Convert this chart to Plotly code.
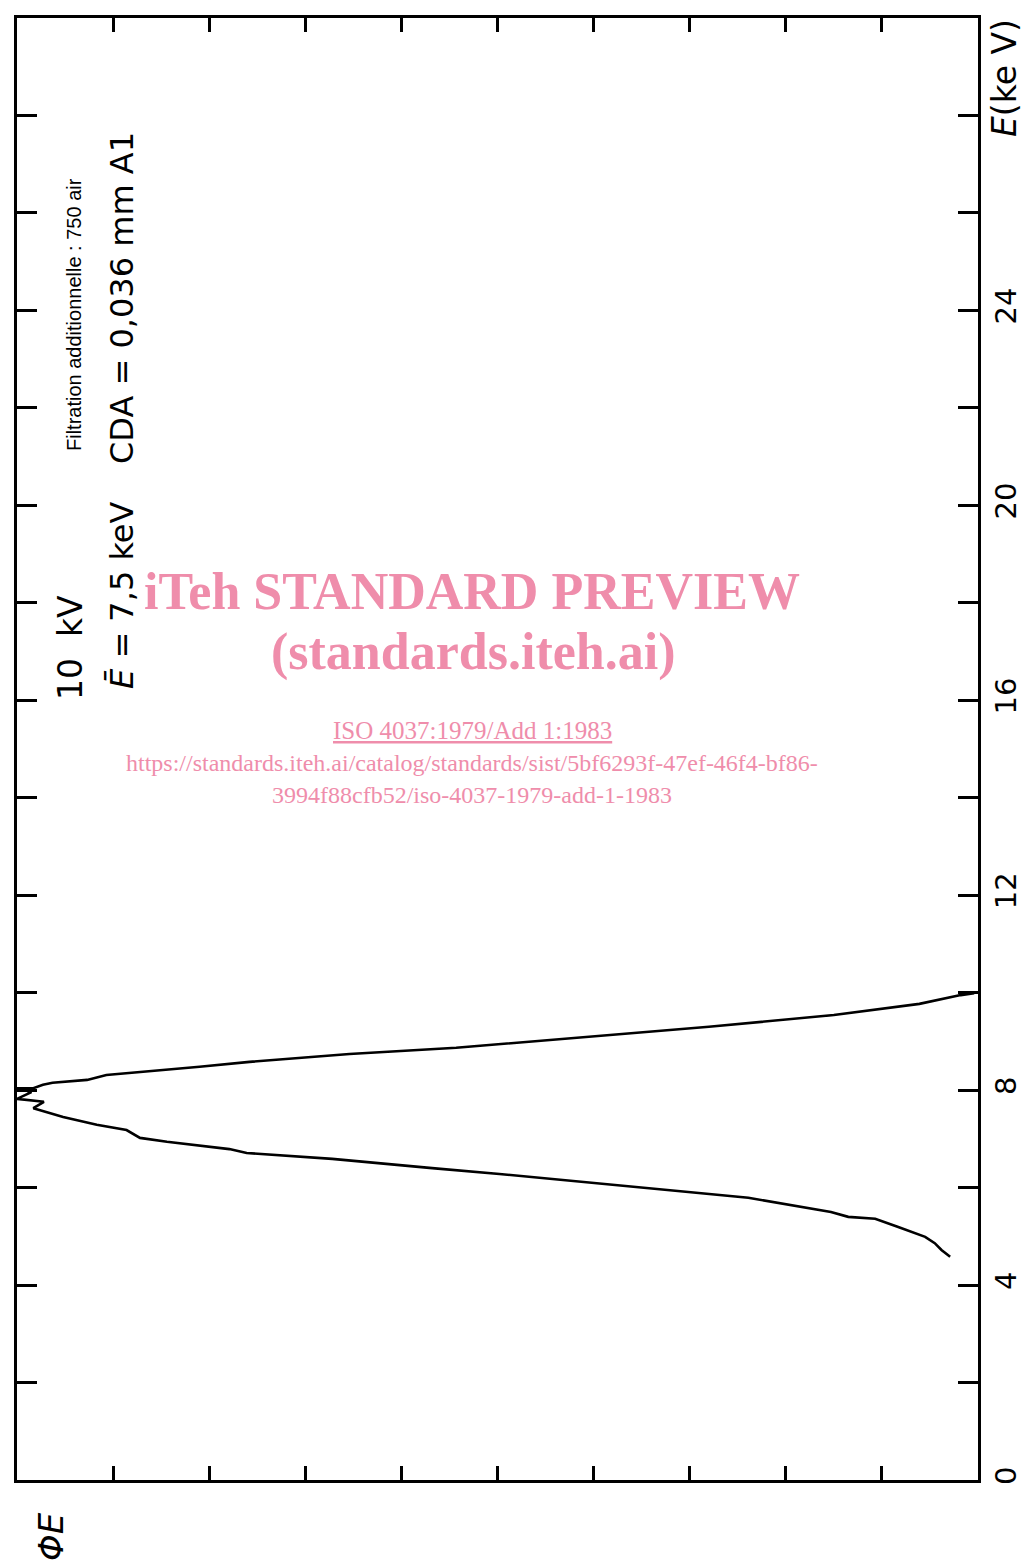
import plotly.graph_objects as go

# Spectrum trace (relative fluence PhiE, photon energy E in keV),
# in drawing order from the low-energy end to the high-energy end
flux = [0.29, 0.38, 0.45, 0.55, 0.83, 1.07, 1.35, 1.53, 2.39, 3.95, 4.98, 5.68, 6.72,
        7.61, 7.79, 8.44, 8.72, 8.86, 9.17, 9.52, 9.83, 9.72, 10.0,
        9.85, 10.0, 9.83, 9.73,
        9.63, 9.27, 9.07, 8.83, 8.10, 7.58, 6.54, 5.43, 4.12, 2.80, 1.50, 0.61, 0.18, 0.04]
energy = [4.58, 4.72, 4.86, 4.99, 5.19, 5.36, 5.40, 5.50, 5.79, 6.09, 6.28, 6.40, 6.59,
          6.71, 6.79, 6.94, 7.02, 7.18, 7.29, 7.45, 7.63, 7.76, 7.82,
          7.96, 8.04, 8.04, 8.11,
          8.15, 8.21, 8.31, 8.35, 8.48, 8.58, 8.74, 8.87, 9.09, 9.30, 9.54, 9.77, 9.95, 9.99]

e_ticks = [0, 2, 4, 6, 8, 10, 12, 14, 16, 18, 20, 22, 24, 26, 28, 30]
e_labels = ["0", "", "4", "", "8", "", "12", "", "16", "", "20", "", "24", "", "", ""]
phi_ticks = [0, 1, 2, 3, 4, 5, 6, 7, 8, 9, 10]

W, H = 1026, 1564
L, R, T, B = 17, 48, 18, 84
PW, PH = W - L - R, H - T - B


def px(x):
    return (x - L) / PW


def py(y):
    return (H - B - y) / PH


fig = go.Figure()
fig.add_trace(go.Scatter(x=flux, y=energy, mode="lines",
                         line=dict(color="black", width=2.6), hoverinfo="skip",
                         showlegend=False))

fig.update_xaxes(range=[10, 0], tickvals=phi_ticks, showticklabels=False,
                 ticks="inside", ticklen=14, tickwidth=2.5, tickcolor="black",
                 showline=True, linecolor="black", linewidth=3, mirror="ticks",
                 showgrid=False, zeroline=False, automargin=False)
fig.update_yaxes(range=[0, 30], side="right", tickvals=e_ticks, ticktext=e_labels,
                 tickangle=-90, ticks="inside", ticklen=20, tickwidth=2.5,
                 tickcolor="black", showline=True, linecolor="black", linewidth=3,
                 mirror="ticks", showgrid=False, zeroline=False, automargin=False,
                 ticklabelstandoff=0,
                 tickfont=dict(family="DejaVu Sans", size=29, color="black"))

ann = []
blk = "black"
ann.append(dict(text="<i>E</i>(ke V)", x=px(1004), y=py(78), textangle=-90,
                font=dict(family="DejaVu Sans", size=33, color=blk)))
ann.append(dict(text="<i>ΦE</i>", x=px(51), y=py(1537), textangle=-90,
                font=dict(family="DejaVu Sans", size=34, color=blk)))
ann.append(dict(text="10  kV", x=px(70), y=py(648), textangle=-90,
                font=dict(family="DejaVu Sans", size=33, color=blk)))
ann.append(dict(text="<i>Ē</i> = 7,5 keV", x=px(122), y=py(595), textangle=-90,
                font=dict(family="DejaVu Sans", size=32, color=blk)))
ann.append(dict(text="CDA = 0,036 mm A1", x=px(122), y=py(298), textangle=-90,
                font=dict(family="DejaVu Sans", size=32, color=blk)))
ann.append(dict(text="Filtration additionnelle : 750 air", x=px(74), y=py(315),
                textangle=-90,
                font=dict(family="Liberation Sans", size=20, color=blk)))

pink = "#EF8DAB"
ann.append(dict(text="<b>iTeh STANDARD PREVIEW</b>", x=px(472), y=py(592),
                font=dict(family="Liberation Serif", size=52, color=pink)))
ann.append(dict(text="<b>(standards.iteh.ai)</b>", x=px(473), y=py(652),
                font=dict(family="Liberation Serif", size=52, color=pink)))
ann.append(dict(text="<u>ISO 4037:1979/Add 1:1983</u>", x=px(472), y=py(731),
                font=dict(family="Liberation Serif", size=25, color=pink)))
ann.append(dict(text="https://standards.iteh.ai/catalog/standards/sist/5bf6293f-47ef-46f4-bf86-",
                x=px(472), y=py(763),
                font=dict(family="Liberation Serif", size=24, color=pink)))
ann.append(dict(text="3994f88cfb52/iso-4037-1979-add-1-1983", x=px(472), y=py(795),
                font=dict(family="Liberation Serif", size=24, color=pink)))

for a in ann:
    a.update(xref="paper", yref="paper", xanchor="center", yanchor="middle",
             showarrow=False)

fig.update_layout(width=W, height=H, margin=dict(l=L, r=R, t=T, b=B, autoexpand=False),
                  paper_bgcolor="white", plot_bgcolor="white", annotations=ann)

fig.write_html("out.html", config={"displayModeBar": False},
               post_script="document.body.style.margin='0';")
